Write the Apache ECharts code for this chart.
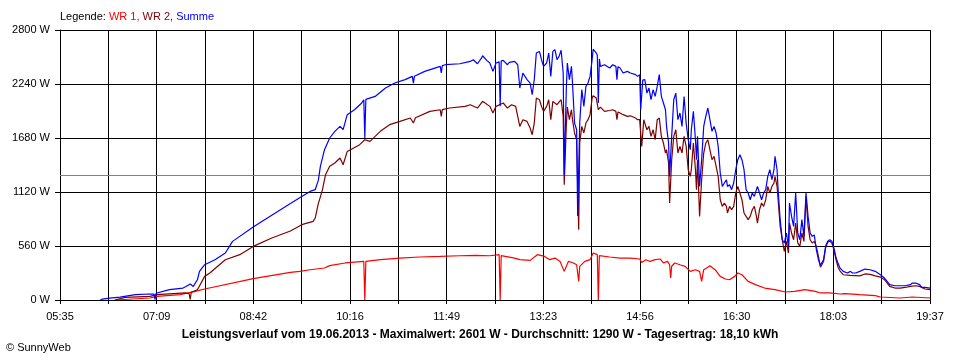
<!DOCTYPE html>
<html><head><meta charset="utf-8">
<script src="https://cdn.jsdelivr.net/npm/echarts@6/dist/echarts.min.js"></script>
<style>html,body{margin:0;padding:0;background:#fff}#c{width:960px;height:360px}</style>
</head><body><div id="c"></div>
<script>
// ---- data ----
const startTime = '05:35';
const endTime = '19:37';
const timeLabels = ['05:35','07:09','08:42','10:16','11:49','13:23','14:56','16:30','18:03','19:37'];
const yTicks = [0, 560, 1120, 1680, 2240, 2800];
const average = 1290;

const wr1 = [
['06:28',0],['07:02',21],['07:09',37],['07:31',55],['07:46',89],['07:55',114],['08:42',221],['09:18',286],
['09:27',297],['09:37',314],['09:51',332],['09:56',356],['10:11',384],['10:29',400],['10:30',0],['10:31',400],
['10:45',418],['11:04',435],['11:23',446],['11:43',452],['12:02',459],['12:17',463],['12:31',459],['12:40',470],
['12:41',0],['12:42',460],['12:46',452],['12:55',435],['13:00',418],['13:10',411],['13:17',470],['13:24',452],
['13:29',418],['13:34',435],['13:39',400],['13:43',297],['13:47',400],['13:52',384],['13:55',366],['13:57',193],
['13:58',349],['14:03',400],['14:08',418],['14:11',487],['14:15',470],['14:16',0],['14:17',460],['14:18',452],
['14:27',446],['14:37',435],['14:47',435],['14:56',425],['14:58',390],['15:02',418],['15:06',400],['15:11',418],
['15:16',425],['15:19',384],['15:23',400],['15:25',366],['15:26',228],['15:27',350],['15:30',384],['15:35',366],
['15:40',349],['15:45',297],['15:50',314],['15:54',297],['15:56',193],['15:58',314],['16:02',340],['16:04',356],
['16:09',314],['16:14',245],['16:19',218],['16:23',210],['16:28',245],['16:31',280],['16:35',262],['16:41',193],
['16:48',159],['16:57',124],['17:07',107],['17:17',83],['17:26',89],['17:36',107],['17:46',89],['17:51',73],
['18:00',73],['18:10',62],['18:15',67],['18:29',55],['18:44',45],['18:49',31],['19:08',21],['19:20',31],['19:37',21]
];

const wr2 = [
['06:28',0],['06:38',27],['07:02',37],['07:09',55],['07:36',73],['07:40',65],['07:41',5],['07:42',80],
['07:48',107],['07:55',245],['08:00',280],['08:15',418],['08:29',470],['08:42',556],['09:00',643],['09:18',715],
['09:29',781],['09:40',815],['09:42',850],['09:43',900],['09:45',1000],['09:47',1070],['09:49',1144],['09:52',1299],
['09:56',1386],['10:01',1421],['10:06',1473],['10:09',1403],['10:13',1541],['10:25',1611],['10:30',1662],['10:35',1645],
['10:45',1749],['10:54',1818],['11:04',1852],['11:14',1887],['11:17',1835],['11:19',1890],['11:33',1956],['11:43',1973],
['11:44',1904],['11:45',1975],['11:52',1991],['12:07',2008],['12:12',2025],['12:19',1991],['12:24',2060],['12:31',2008],
['12:34',1939],['12:37',2008],['12:44',2043],['12:48',1991],['12:52',2025],['12:56',2008],['13:00',1800],['13:03',1870],
['13:07',1852],['13:10',1783],['13:12',1714],['13:14',1835],['13:16',2094],['13:19',2077],['13:21',2008],['13:23',1956],
['13:26',2008],['13:28',2077],['13:30',1870],['13:32',2060],['13:36',2025],['13:40',2077],['13:42',1904],['13:43',1196],
['13:45',1800],['13:46',2000],['13:48',1870],['13:50',1973],['13:51',1870],['13:53',1732],['13:55',1662],['13:57',729],
['13:58',1628],['14:00',1800],['14:02',1732],['14:04',1835],['14:06',1870],['14:08',1922],['14:10',2094],['14:11',2119],
['14:14',2094],['14:16',1973],['14:18',2000],['14:22',1956],['14:27',1965],['14:30',1973],['14:33',1956],['14:34',1870],
['14:35',1950],['14:37',1939],['14:40',1922],['14:44',1904],['14:47',1910],['14:52',1887],['14:54',1870],['14:56',1870],
['14:58',1593],['15:00',1870],['15:01',1835],['15:03',1766],['15:05',1800],['15:07',1697],['15:09',1766],['15:11',1662],
['15:13',1870],['15:15',1887],['15:17',1697],['15:19',1628],['15:21',1524],['15:22',1559],['15:24',1421],['15:25',1006],
['15:27',1455],['15:29',1697],['15:31',1766],['15:33',1524],['15:35',1593],['15:37',1524],['15:39',1697],['15:41',1593],
['15:43',1351],['15:45',1282],['15:46',1351],['15:48',1628],['15:50',1351],['15:51',1144],['15:52',1455],['15:54',867],
['15:56',1247],['15:58',1524],['16:00',1628],['16:02',1662],['16:04',1559],['16:06',1455],['16:08',1489],['16:10',1386],
['16:12',1282],['16:14',1040],['16:16',971],['16:18',1006],['16:20',971],['16:21',902],['16:23',971],['16:25',936],
['16:27',971],['16:29',1110],['16:31',1178],['16:33',1110],['16:35',1040],['16:37',902],['16:39',867],['16:41',833],
['16:43',867],['16:45',936],['16:47',971],['16:49',867],['16:50',798],['16:52',936],['16:54',1006],['16:56',971],
['16:58',1040],['17:00',1178],['17:02',1110],['17:04',1178],['17:06',1213],['17:07',1282],['17:09',1178],['17:10',1040],
['17:12',763],['17:14',625],['17:16',504],['17:18',608],['17:20',487],['17:21',798],['17:23',695],['17:25',625],
['17:27',798],['17:29',591],['17:31',556],['17:33',695],['17:35',608],['17:37',1074],['17:39',763],['17:41',625],
['17:43',591],['17:45',608],['17:47',556],['17:49',452],['17:51',340],['17:52',320],['17:54',400],['17:56',540],
['17:58',600],['18:00',610],['18:02',590],['18:04',520],['18:06',420],['18:08',340],['18:10',300],['18:13',262],
['18:20',255],['18:29',250],['18:34',270],['18:39',265],['18:44',250],['18:49',238],['18:53',210],['18:58',141],
['19:03',124],['19:08',124],['19:13',130],['19:18',141],['19:23',148],['19:27',141],['19:32',114],['19:37',107]
];

const summe = [
['06:14',0],['06:16',10],['06:23',20],['06:33',30],['06:48',55],['07:02',62],['07:06',60],['07:07',5],
['07:08',70],['07:09',83],['07:21',107],['07:34',124],['07:37',140],['07:41',166],['07:44',141],['07:48',210],
['07:50',297],['07:55',366],['08:05',418],['08:15',487],['08:22',608],['08:42',757],['08:58',867],['09:18',1000],
['09:29',1074],['09:37',1126],['09:42',1144],['09:45',1240],['09:47',1385],['09:51',1559],['09:56',1680],['10:01',1749],
['10:06',1800],['10:09',1766],['10:13',1922],['10:20',1973],['10:27',2043],['10:29',2077],['10:30',1680],['10:31',2080],
['10:40',2111],['10:50',2198],['10:59',2250],['11:09',2285],['11:16',2319],['11:17',2250],['11:18',2320],['11:28',2371],
['11:43',2423],['11:44',2354],['11:45',2430],['11:48',2440],['12:02',2450],['12:12',2474],['12:15',2492],['12:19',2450],
['12:23',2510],['12:24',2533],['12:28',2485],['12:31',2458],['12:34',2371],['12:37',2458],['12:40',2470],['12:41',2010],
['12:42',2480],['12:44',2485],['12:48',2440],['12:50',2464],['12:55',2474],['12:58',2440],['13:00',2198],['13:03',2354],
['13:07',2285],['13:10',2250],['13:12',2129],['13:14',2285],['13:16',2561],['13:19',2578],['13:21',2492],['13:23',2423],
['13:26',2458],['13:28',2561],['13:30',2319],['13:32',2578],['13:34',2596],['13:36',2492],['13:38',2526],['13:40',2590],
['13:42',2354],['13:43',1300],['13:45',2181],['13:46',2458],['13:48',2285],['13:50',2423],['13:51',2250],['13:53',1835],
['13:55',1766],['13:56',870],['13:58',1835],['14:00',2181],['14:02',2008],['14:04',2215],['14:06',2250],['14:08',2319],
['14:10',2492],['14:11',2601],['14:14',2561],['14:15',2540],['14:16',2043],['14:17',2500],['14:18',2423],['14:22',2440],
['14:27',2406],['14:30',2440],['14:33',2423],['14:34',2285],['14:35',2420],['14:37',2406],['14:40',2354],['14:44',2371],
['14:47',2354],['14:52',2337],['14:54',2319],['14:56',2337],['14:57',1973],['14:59',2280],['15:01',2285],['15:03',2146],
['15:05',2198],['15:07',2077],['15:09',2181],['15:11',2111],['15:13',2215],['15:15',2337],['15:17',2111],['15:19',2043],
['15:21',1973],['15:22',1800],['15:24',1628],['15:25',1282],['15:27',1697],['15:29',2077],['15:31',2146],['15:33',1870],
['15:35',1939],['15:37',1800],['15:39',2111],['15:41',1835],['15:43',1662],['15:45',1559],['15:46',1766],['15:48',1956],
['15:50',1662],['15:51',1455],['15:52',1697],['15:54',1178],['15:56',1455],['15:58',1800],['16:00',1904],['16:02',1991],
['16:04',1870],['16:06',1749],['16:08',1800],['16:10',1732],['16:12',1593],['16:14',1317],['16:16',1178],['16:18',1213],
['16:20',1247],['16:21',1178],['16:23',1195],['16:25',1144],['16:27',1213],['16:29',1351],['16:31',1455],['16:33',1507],
['16:35',1455],['16:37',1351],['16:39',1144],['16:41',1110],['16:43',1040],['16:45',1110],['16:47',1074],['16:49',1144],
['16:50',1178],['16:52',1110],['16:54',1040],['16:56',1110],['16:58',1144],['17:00',1282],['17:02',1351],['17:04',1247],
['17:06',1351],['17:07',1489],['17:09',1351],['17:10',1144],['17:12',833],['17:14',625],['17:16',591],['17:18',695],
['17:20',556],['17:21',1006],['17:23',867],['17:25',763],['17:27',1110],['17:29',695],['17:31',625],['17:33',833],
['17:35',660],['17:37',1110],['17:39',867],['17:41',695],['17:43',660],['17:45',675],['17:47',522],['17:49',418],
['17:51',360],['17:52',349],['17:54',420],['17:56',560],['17:58',610],['18:00',625],['18:02',610],['18:04',540],
['18:06',440],['18:08',380],['18:10',330],['18:13',297],['18:17',280],['18:20',297],['18:22',280],['18:25',280],
['18:29',297],['18:34',321],['18:39',314],['18:44',297],['18:49',262],['18:53',228],['18:58',159],['19:03',148],
['19:08',148],['19:13',148],['19:18',159],['19:20',176],['19:23',176],['19:27',159],['19:29',131],['19:32',131],['19:37',124]
];

// ---- helpers ----
function mins(t){ const p = t.split(':'); return (+p[0]) * 60 + (+p[1]); }
const t0 = mins(startTime);
const span = mins(endTime) - t0;
const steps = (timeLabels.length - 1) * 2;
const step = span / steps;
const toData = arr => arr.map(p => [mins(p[0]) - t0, p[1]]);

const FONT = "'Liberation Sans', Arial, sans-serif";

const chart = echarts.init(document.getElementById('c'), null, {renderer: 'canvas'});
chart.setOption({
  animation: false,
  backgroundColor: '#ffffff',
  title: [
    {
      text: '{k|Legende: }{a|WR 1, }{b|WR 2, }{c|Summe}',
      left: 60, top: 11, padding: 0,
      textStyle: {
        fontFamily: FONT, fontSize: 11, fontWeight: 'normal',
        rich: {
          k: {color: '#000000', fontFamily: FONT, fontSize: 11},
          a: {color: '#ff0000', fontFamily: FONT, fontSize: 11},
          b: {color: '#800000', fontFamily: FONT, fontSize: 11},
          c: {color: '#0000ff', fontFamily: FONT, fontSize: 11}
        }
      }
    },
    {
      text: 'Leistungsverlauf vom 19.06.2013 - Maximalwert: 2601 W - Durchschnitt: 1290 W - Tagesertrag: 18,10 kWh',
      left: 'center', top: 329, padding: 0,
      textStyle: {fontFamily: FONT, fontSize: 12, fontWeight: 'bold', color: '#000000'}
    },
    {
      text: '\u00A9 SunnyWeb',
      left: 6, top: 342, padding: 0,
      textStyle: {fontFamily: FONT, fontSize: 11, fontWeight: 'normal', color: '#000000'}
    }
  ],
  grid: {left: 60, right: 30, top: 30, bottom: 60, containLabel: false, outerBoundsMode: 'none'},
  xAxis: {
    type: 'value', min: 0, max: span, interval: step,
    axisLine: {show: true, lineStyle: {color: '#000000', width: 1}},
    axisTick: {show: true, length: 4, lineStyle: {color: '#000000', width: 1}},
    splitLine: {show: true, lineStyle: {color: '#000000', width: 1}},
    axisLabel: {
      show: true, margin: 11, color: '#000000', fontFamily: FONT, fontSize: 11,
      showMinLabel: true, showMaxLabel: true, hideOverlap: false,
      formatter: function (v) {
        const idx = Math.round(v / step);
        if (idx % 2 !== 0) return '';
        return timeLabels[idx / 2] || '';
      }
    }
  },
  yAxis: {
    type: 'value', min: yTicks[0], max: yTicks[yTicks.length - 1], interval: yTicks[1] - yTicks[0],
    axisLine: {show: true, lineStyle: {color: '#000000', width: 1}},
    axisTick: {show: true, length: 5, lineStyle: {color: '#000000', width: 1}},
    splitLine: {show: true, lineStyle: {color: '#000000', width: 1}},
    axisLabel: {margin: 10, color: '#000000', fontFamily: FONT, fontSize: 11, formatter: v => v + ' W'}
  },
  series: [
    {
      name: 'WR 1', type: 'line', data: toData(wr1), showSymbol: false, symbol: 'none',
      lineStyle: {color: '#ff0000', width: 1.2}, itemStyle: {color: '#ff0000'}, z: 3,
      markLine: {
        silent: true, symbol: ['none', 'none'], label: {show: false},
        lineStyle: {color: '#808080', width: 1, type: 'solid'},
        data: [{yAxis: average}], z: 1
      }
    },
    {
      name: 'WR 2', type: 'line', data: toData(wr2), showSymbol: false, symbol: 'none',
      lineStyle: {color: '#800000', width: 1.2}, itemStyle: {color: '#800000'}, z: 4
    },
    {
      name: 'Summe', type: 'line', data: toData(summe), showSymbol: false, symbol: 'none',
      lineStyle: {color: '#0000ff', width: 1.2}, itemStyle: {color: '#0000ff'}, z: 5
    }
  ]
});
</script>
</body></html>
